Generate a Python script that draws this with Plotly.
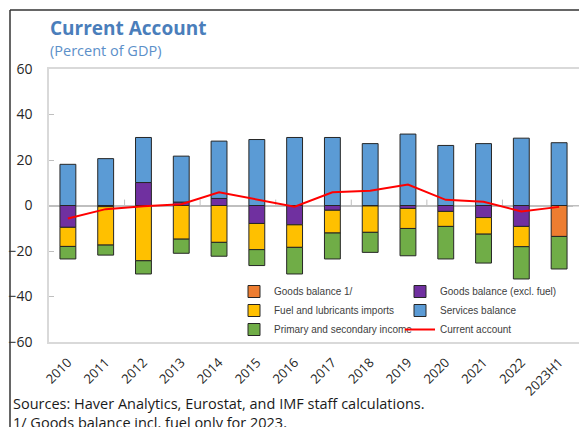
import plotly.graph_objects as go

categories = ['2010', '2011', '2012', '2013', '2014', '2015', '2016', '2017',
              '2018', '2019', '2020', '2021', '2022', '2023H1']
goods_balance = [None] * 13 + [-13.6]
goods_excl_fuel = [-9.6, -0.5, 10.1, 1.5, 3.1, -7.9, -8.5, -2.1, -0.2, -1.3, -2.6, -5.3, -9.2, None]
fuel_imports = [-8.4, -16.9, -24.3, -14.8, -16.2, -11.5, -9.9, -10.0, -11.6, -8.8, -6.6, -7.3, -8.9, None]
services = [18.1, 20.6, 19.8, 20.2, 25.2, 29.0, 29.9, 29.9, 27.2, 31.4, 26.4, 27.2, 29.6, 27.6]
primary_secondary = [-5.5, -4.4, -5.8, -6.2, -6.1, -7.0, -11.7, -11.4, -8.8, -12.0, -14.3, -12.7, -14.2, -14.3]
current_account = [-5.7, -1.6, -0.3, 0.6, 5.8, 2.8, -0.5, 5.8, 6.5, 9.2, 2.5, 1.6, -2.6, -0.6]

W, H = 579, 427
L, R, T, B = 49, 0, 69, 85
PW, PH = W - L - R, H - T - B

def px_x(p):
    return (p - L) / PW

def px_y(p):
    return (H - B - p) / PH

idx = list(range(len(categories)))
boundaries = [i + 0.5 for i in range(1, len(categories) - 1, 2)]

outline = dict(color='#262626', width=1)
bar_w = 0.42

fig = go.Figure()
fig.add_trace(go.Bar(x=idx, y=goods_balance, name='Goods balance 1/',
                     marker=dict(color='#ED7D31', line=outline), width=bar_w, legend='legend'))
fig.add_trace(go.Bar(x=idx, y=goods_excl_fuel, name='Goods balance (excl. fuel)',
                     marker=dict(color='#7030A0', line=outline), width=bar_w, legend='legend2'))
fig.add_trace(go.Bar(x=idx, y=fuel_imports, name='Fuel and lubricants imports',
                     marker=dict(color='#FFC000', line=outline), width=bar_w, legend='legend'))
fig.add_trace(go.Bar(x=idx, y=services, name='Services balance',
                     marker=dict(color='#5B9BD5', line=outline), width=bar_w, legend='legend2'))
fig.add_trace(go.Bar(x=idx, y=primary_secondary, name='Primary and secondary income',
                     marker=dict(color='#70AD47', line=outline), width=bar_w, legend='legend'))
# tick marks on the zero line at category boundaries (every other one)
fig.add_trace(go.Scatter(x=boundaries, y=[0] * len(boundaries), mode='markers',
                         marker=dict(size=1, opacity=0), showlegend=False, hoverinfo='skip',
                         error_y=dict(type='constant', value=2.6, valueminus=0, symmetric=False,
                                      width=0, thickness=1, color='#bfbfbf')))
fig.add_trace(go.Scatter(x=idx, y=current_account, name='Current account', mode='lines',
                         line=dict(color='#FF0000', width=2), legend='legend2'))

tick_font = dict(family='Open Sans, Noto Sans, sans-serif', size=14, color='#262626')
leg_font = dict(family='Liberation Sans, Arial, sans-serif', size=10, color='#404040')
xr = [-0.5, -0.5 + (PW + 3) / 38.0]

mask = dict(type='rect', xref='paper', yref='paper', layer='above',
            fillcolor='white', line=dict(width=0))

fig.update_layout(
    width=W, height=H,
    margin=dict(l=L, r=R, t=T, b=B),
    paper_bgcolor='white', plot_bgcolor='white',
    barmode='relative',
    showlegend=True,
    xaxis=dict(range=xr, showgrid=False, showline=True, mirror=True, zeroline=False,
               linecolor='#d9d9d9', linewidth=1.5, ticks='', tickangle=-45,
               tickmode='array', tickvals=idx, ticktext=categories,
               tickfont=dict(family='Open Sans, Noto Sans, sans-serif', size=13, color='#262626'),
               ticklabelstandoff=6),
    yaxis=dict(range=[-60, 60], dtick=20, showgrid=False, zeroline=True, zerolinecolor='#bfbfbf',
               zerolinewidth=1.5, showline=True, mirror=False, linecolor='#d9d9d9', linewidth=1.5,
               ticks='inside', ticklen=5, tickcolor='#bfbfbf', tickfont=tick_font,
               ticklabelstandoff=12),
    legend=dict(x=px_x(234), y=px_y(277), xanchor='left', yanchor='top', orientation='v',
                font=leg_font, bgcolor='rgba(0,0,0,0)', tracegroupgap=0, itemwidth=30),
    legend2=dict(x=px_x(400), y=px_y(277), xanchor='left', yanchor='top', orientation='v',
                 font=leg_font, bgcolor='rgba(0,0,0,0)', tracegroupgap=0, itemwidth=30),
    annotations=[
        dict(text='<b>Current Account</b>', xref='paper', yref='paper', x=px_x(48), y=px_y(28),
             xanchor='left', yanchor='middle', showarrow=False,
             font=dict(family='Open Sans, Noto Sans, sans-serif', size=19, color='#4A7EBB')),
        dict(text='(Percent of GDP)', xref='paper', yref='paper', x=px_x(48), y=px_y(50),
             xanchor='left', yanchor='middle', showarrow=False,
             font=dict(family='Open Sans, Noto Sans, sans-serif', size=14.5, color='#5B8FC9')),
        dict(text='Sources: Haver Analytics, Eurostat, and IMF staff calculations.', xref='paper',
             yref='paper', x=px_x(11), y=px_y(403), xanchor='left', yanchor='middle',
             showarrow=False, font=dict(family='Open Sans, Noto Sans, sans-serif', size=14.5, color='#1a1a1a')),
        dict(text='1/ Goods balance incl. fuel only for 2023.', xref='paper',
             yref='paper', x=px_x(11), y=px_y(422), xanchor='left', yanchor='middle',
             showarrow=False, font=dict(family='Open Sans, Noto Sans, sans-serif', size=14.5, color='#1a1a1a')),
    ],
    shapes=[
        dict(type='line', xref='paper', yref='paper', x0=px_x(10), x1=px_x(600), y0=px_y(10), y1=px_y(10),
             line=dict(color='#333333', width=1.5)),
        dict(type='line', xref='paper', yref='paper', x0=px_x(10), x1=px_x(10), y0=px_y(10), y1=px_y(440),
             line=dict(color='#333333', width=1.5)),
        dict(mask, x0=px_x(573), x1=px_x(600), y0=px_y(70.3), y1=px_y(204.4)),
        dict(mask, x0=px_x(573), x1=px_x(600), y0=px_y(206.6), y1=px_y(340.7)),
    ],
)

fig.write_html('out.html', config={'displayModeBar': False},
               post_script="document.body.style.margin='0';document.body.style.overflow='hidden';")
